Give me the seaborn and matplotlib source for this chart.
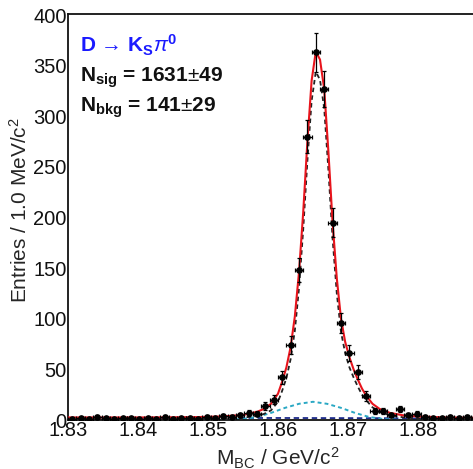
import numpy as np
import pandas as pd
import matplotlib
matplotlib.use("Agg")
import matplotlib.pyplot as plt
from matplotlib.ticker import MultipleLocator, FixedLocator
import seaborn as sns

# ---------------- data ----------------
bin_lo = 1.83
bin_width = 0.0012
counts = [1, 2, 1, 3, 2, 1, 2, 2, 1, 2,
          1, 3, 1, 2, 2, 1, 3, 2, 4, 3,
          5, 7, 6, 14, 20, 42, 74, 148, 280, 363,
          327, 195, 96, 66, 47, 24, 9, 9, 5, 11,
          5, 6, 3, 2, 2, 3, 2, 3, 2, 1]

fit_x = [1.830, 1.840, 1.848, 1.852, 1.855, 1.857, 1.858, 1.859, 1.860, 1.8606,
         1.8612, 1.8618, 1.8624, 1.8630, 1.8636, 1.8642, 1.8648, 1.8654, 1.8660, 1.8666,
         1.8672, 1.8678, 1.8684, 1.8690, 1.8696, 1.8702, 1.8708, 1.8714, 1.8720, 1.8726,
         1.8735, 1.8745, 1.876, 1.878, 1.880, 1.884, 1.890]
total_fit = [2.5, 2.5, 2.8, 3.5, 5, 8, 11, 16, 26, 38,
             52, 72, 102, 146, 205, 275, 335, 364, 356, 327,
             265, 195, 140, 100, 77, 62, 50, 40, 31, 24,
             16, 11, 7, 4.5, 3.5, 2.5, 2]
signal_fit = [0.5, 0.5, 0.8, 1.4, 2.3, 4, 6, 9.5, 18, 29,
              41.5, 60, 88, 130, 188, 256, 315, 344, 336, 308,
              247, 179, 125, 87, 66, 52, 42, 33, 25, 19.5,
              12.5, 8, 4.8, 2.5, 1.5, 0.5, 0]

peak_bkg_x = [1.850, 1.853, 1.855, 1.857, 1.859, 1.861, 1.863, 1.865, 1.867,
              1.869, 1.871, 1.873, 1.875, 1.877, 1.880]
peak_bkg_y = [0, 0.3, 1, 3, 7, 12, 16, 18, 16, 12, 7, 3, 1, 0.3, 0]

comb_bkg_x = [1.830, 1.860, 1.875, 1.880, 1.885, 1.8865]
comb_bkg_y = [2, 2, 1.8, 1.5, 0.8, 0]

x_ticks = [1.83, 1.84, 1.85, 1.86, 1.87, 1.88]
y_ticks = [0, 50, 100, 150, 200, 250, 300, 350, 400]

# ---------------- style ----------------
sns.set_theme(style="white")
plt.rcParams["font.family"] = ["Liberation Sans", "DejaVu Sans"]
plt.rcParams["mathtext.fontset"] = "custom"
plt.rcParams["mathtext.rm"] = "Liberation Sans"
plt.rcParams["mathtext.it"] = "Liberation Sans:italic"
plt.rcParams["mathtext.bf"] = "Liberation Sans:bold"
plt.rcParams["mathtext.sf"] = "Liberation Sans"

fig = plt.figure(figsize=(4.73, 4.69), dpi=100)
fig.patch.set_facecolor("white")
ax = fig.add_axes([68 / 473, 49 / 469, 420 / 473, 406 / 469])

centers = bin_lo + bin_width * (np.arange(len(counts)) + 0.5)
df_pts = pd.DataFrame({"x": centers, "y": counts})
df_fit = pd.DataFrame({"x": fit_x, "total": total_fit, "signal": signal_fit})
df_pk = pd.DataFrame({"x": peak_bkg_x, "y": peak_bkg_y})
df_cb = pd.DataFrame({"x": comb_bkg_x, "y": comb_bkg_y})

sns.lineplot(data=df_cb, x="x", y="y", ax=ax, color="#1c2a8a", lw=1.3,
             linestyle=(0, (3, 2)), sort=False, estimator=None, zorder=2)
sns.lineplot(data=df_pk, x="x", y="y", ax=ax, color="#2aa8c4", lw=1.4,
             linestyle=(0, (2, 1.6)), sort=False, estimator=None, zorder=2)
sns.lineplot(data=df_fit, x="x", y="signal", ax=ax, color="#222222", lw=1.3,
             linestyle=(0, (2.5, 1.8)), sort=False, estimator=None, zorder=3)
sns.lineplot(data=df_fit, x="x", y="total", ax=ax, color="#e8141c", lw=1.5,
             sort=False, estimator=None, zorder=4)

ax.errorbar(df_pts["x"], df_pts["y"], xerr=bin_width / 2, yerr=np.sqrt(df_pts["y"]),
            fmt="o", color="black", ms=3.8, elinewidth=0.9, capsize=1.4,
            capthick=0.9, zorder=5)

ax.set_xlim(1.83, 1.89)
ax.set_ylim(0, 401)
ax.xaxis.set_major_locator(FixedLocator(x_ticks))
ax.yaxis.set_major_locator(FixedLocator(y_ticks))
ax.xaxis.set_minor_locator(MultipleLocator(0.002))
ax.yaxis.set_minor_locator(MultipleLocator(10))
ax.set_xticklabels([f"{v:.2f}" for v in x_ticks])
ax.set_yticklabels([str(v) for v in y_ticks])
ax.tick_params(which="both", direction="in", top=False, right=False,
               colors="#111111", labelsize=14.5, width=1.0)
ax.tick_params(which="major", length=8.5, pad=1)
ax.tick_params(which="minor", length=4.3)
for s in ax.spines.values():
    s.set_linewidth(1.3)
    s.set_color("#111111")

ax.set_xlabel(r"M$_{\mathrm{BC}}$ / GeV/c$^2$", fontsize=15)
ax.xaxis.set_label_coords(0.5, -0.063)
ax.set_ylabel(r"Entries / 1.0 MeV/c$^2$", fontsize=15)
ax.yaxis.set_label_coords(-0.088, 0.517)

ax.text(80 / 473, 1 - 53 / 469, r"D → K$_{\mathbf{S}}$$\pi^{\mathbf{0}}$",
        transform=fig.transFigure, fontsize=15, fontweight="bold",
        color="#1a1aff", va="baseline", ha="left")
ax.text(80 / 473, 1 - 82 / 469, r"N$_{\mathbf{sig}}$ = 1631$\pm$49",
        transform=fig.transFigure, fontsize=15, fontweight="bold",
        color="#111111", va="baseline", ha="left")
ax.text(80 / 473, 1 - 112 / 469, r"N$_{\mathbf{bkg}}$ = 141$\pm$29",
        transform=fig.transFigure, fontsize=15, fontweight="bold",
        color="#111111", va="baseline", ha="left")

fig.savefig("out.png", dpi=100)
